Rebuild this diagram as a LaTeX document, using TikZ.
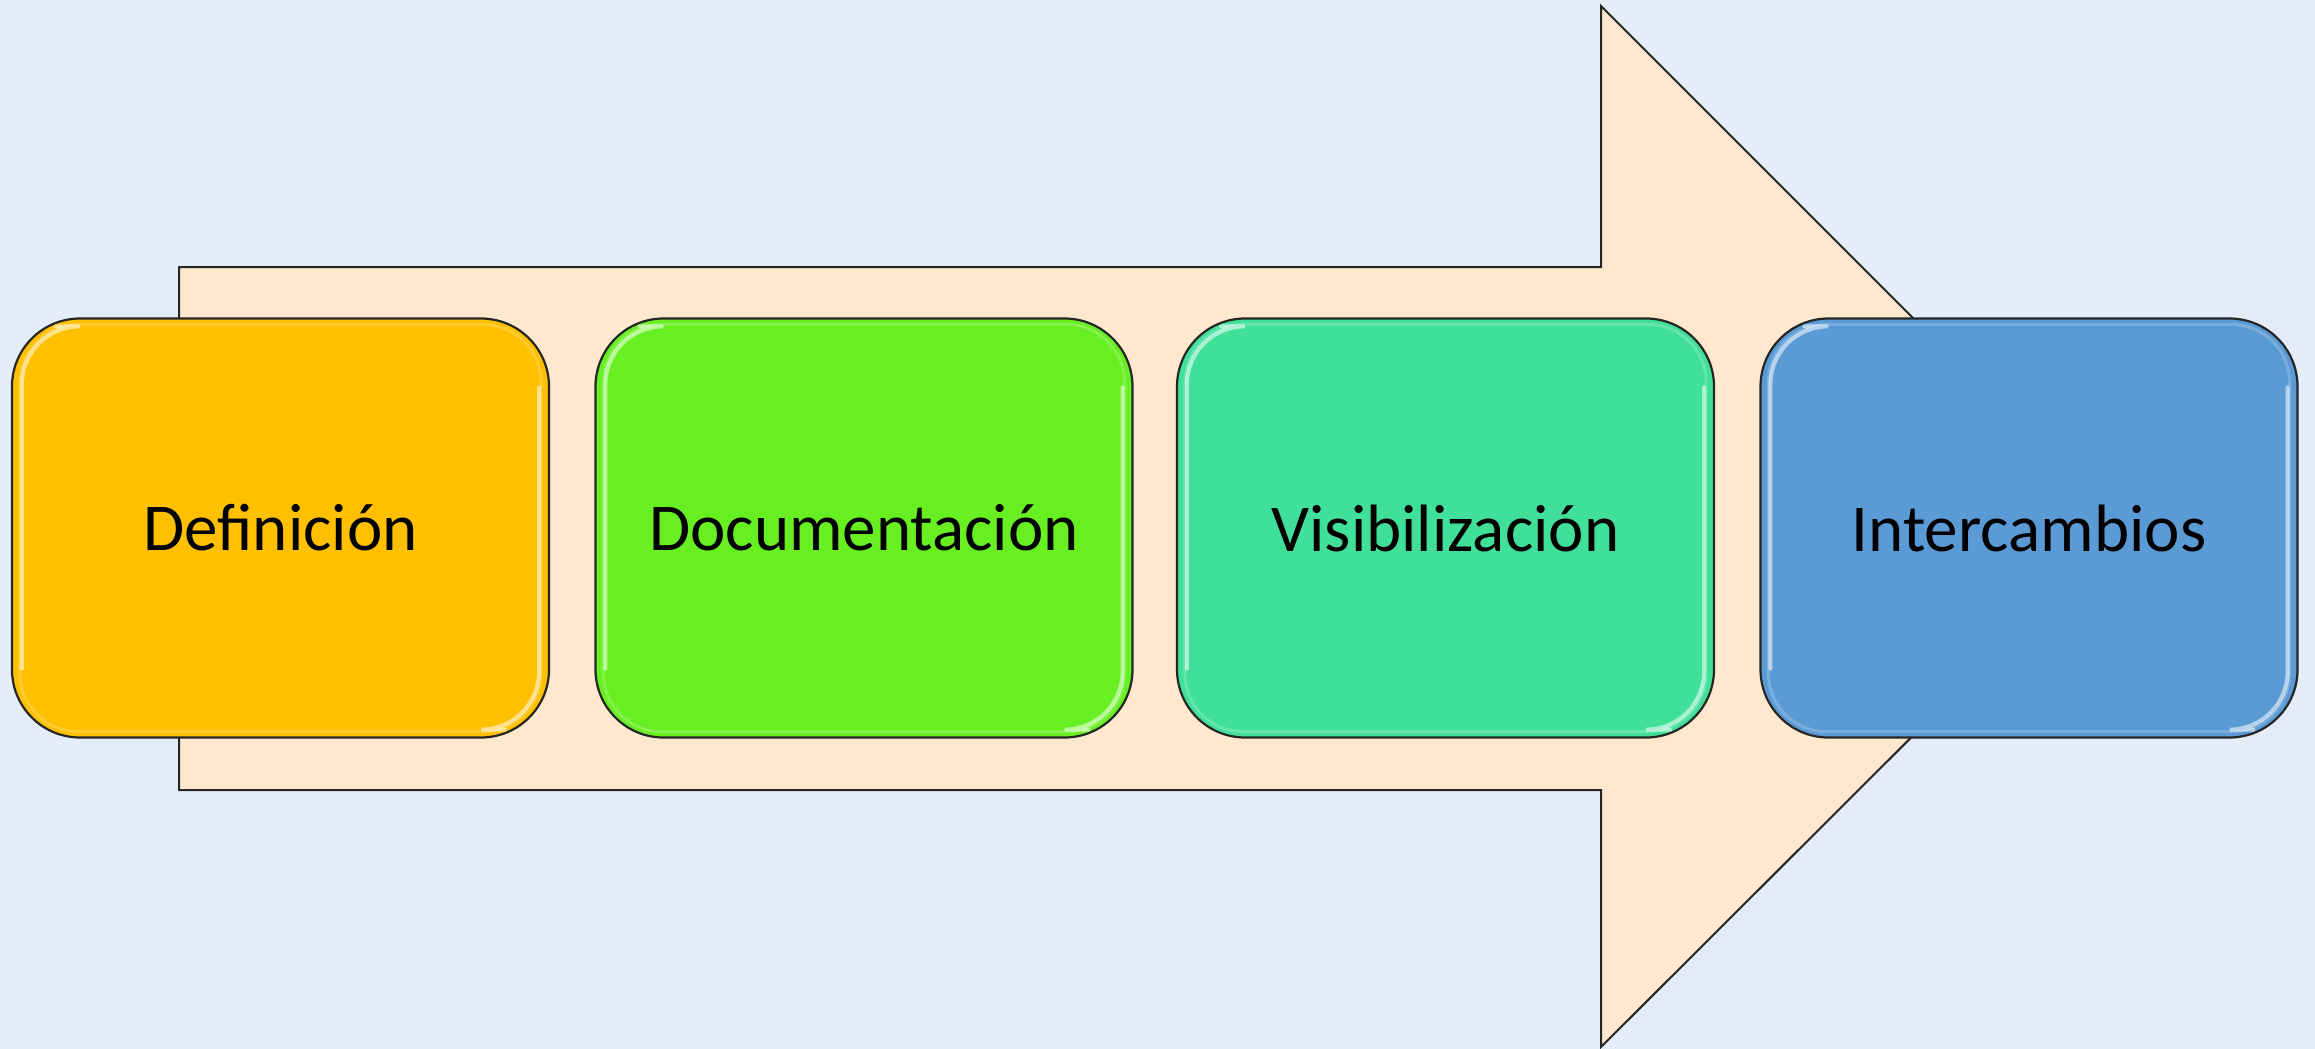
\documentclass[tikz,border=0pt]{standalone}
\usepackage{fontspec}
\setmainfont{Carlito}
\definecolor{bgc}{HTML}{E4ECF8}
\definecolor{peach}{HTML}{FFE8CD}
\definecolor{cyel}{HTML}{FFC000}
\definecolor{cgrn}{HTML}{68EF22}
\definecolor{ctea}{HTML}{41E09A}
\definecolor{cblu}{HTML}{5B9BD5}
\definecolor{edge}{HTML}{262626}
\begin{document}
\begin{tikzpicture}[x=1pt,y=-1pt,
  stagebox/.style={draw=edge,line width=2.2pt,rounded corners=68pt,minimum width=537pt,minimum height=419pt,
    inner sep=0pt,font=\fontsize{67}{80}\selectfont,text=black},
  gloss/.style={draw=white,line width=4pt,opacity=0.55,rounded corners=58pt,line cap=round},
  softgloss/.style={draw=white,line width=3pt,opacity=0.18,rounded corners=58pt}]
\fill[bgc] (0,0) rectangle (2315,1049);
\useasboundingbox (0,0) rectangle (2315,1049);
% big arrow
\draw[fill=peach,draw=edge,line width=2pt,line join=miter]
  (179,267) -- (1601,267) -- (1601,6) -- (2122,527) -- (1601,1047) -- (1601,790) -- (179,790) -- cycle;
% boxes
\node[stagebox,fill=cyel] (b1) at (280.5,528) {Definición};
\node[stagebox,fill=cgrn] (b2) at (864,528) {Documentación};
\node[stagebox,fill=ctea] (b3) at (1445.5,528) {Visibilización};
\node[stagebox,fill=cblu] (b4) at (2029,528) {Intercambios};
\foreach \b in {b1,b2,b3,b4}{
  \draw[softgloss] ([xshift=9pt,yshift=-7pt]\b.north west) rectangle ([xshift=-9pt,yshift=7pt]\b.south east);
  \draw[gloss] ([xshift=11pt,yshift=70pt]\b.south west) -- ([xshift=11pt,yshift=-9pt]\b.north west) -- ([xshift=45pt,yshift=-9pt]\b.north west);
  \draw[gloss] ([xshift=-11pt,yshift=-70pt]\b.north east) -- ([xshift=-11pt,yshift=9pt]\b.south east) -- ([xshift=-45pt,yshift=9pt]\b.south east);
}
\end{tikzpicture}
\end{document}
